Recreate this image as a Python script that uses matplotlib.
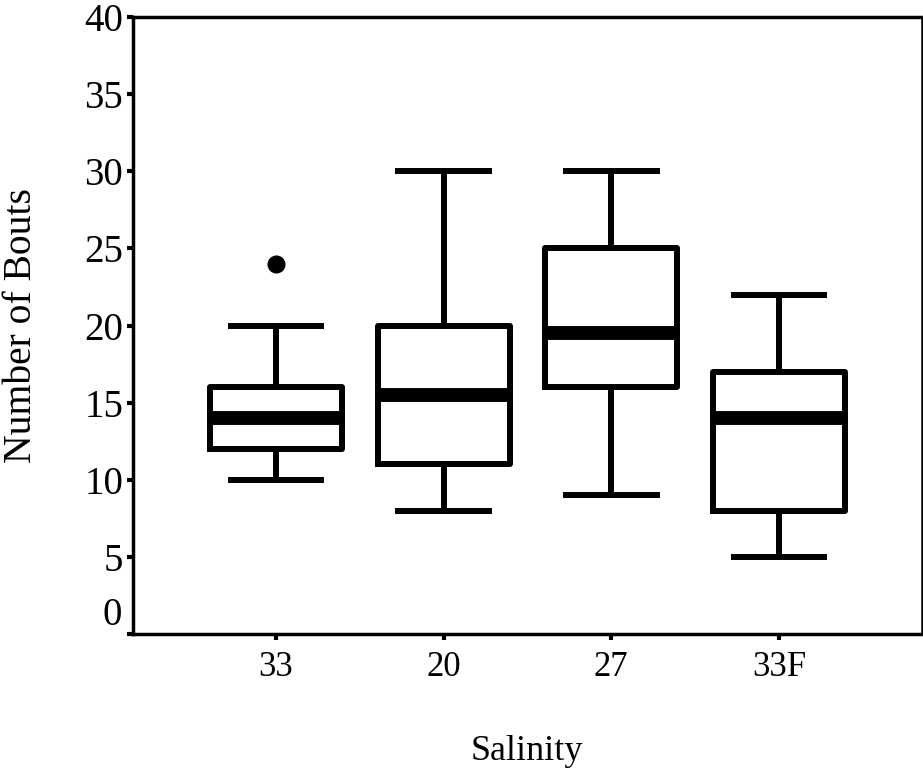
import matplotlib
matplotlib.use("Agg")
import matplotlib.pyplot as plt
from matplotlib.ticker import FuncFormatter

# box summary per salinity group
groups = ["33", "20", "27", "33F"]
whisker_low = [10, 8, 9, 5]
q1 = [12, 11, 16, 8]
median = [14, 15.5, 19.5, 14]
q3 = [16, 20, 25, 17]
whisker_high = [20, 30, 30, 22]
outliers = [[24], [], [], []]
y_ticks = [0, 5, 10, 15, 20, 25, 30, 35, 40]

plt.rcParams['font.family'] = ['Liberation Serif', 'DejaVu Serif']

fig = plt.figure(figsize=(9.23, 7.72), dpi=100)
ax = fig.add_axes([133 / 923, 1 - 634 / 772, (922 - 133) / 923, (634 - 17) / 772])

stats = []
for i in range(len(groups)):
    stats.append({
        "label": groups[i],
        "whislo": whisker_low[i],
        "q1": q1[i],
        "med": median[i],
        "q3": q3[i],
        "whishi": whisker_high[i],
        "fliers": outliers[i],
    })

ax.bxp(stats, positions=[1, 2, 3, 4], widths=0.79,
       boxprops=dict(color="black", linewidth=4.3),
       whiskerprops=dict(color="black", linewidth=4.3),
       capprops=dict(color="black", linewidth=4.3),
       medianprops=dict(color="black", linewidth=10, solid_capstyle="butt"),
       flierprops=dict(marker="o", markerfacecolor="black", markeredgecolor="black", markersize=12),
       capwidths=0.54)

ax.set_xlim(0.146, 4.854)
ax.set_ylim(0, 40)
ax.set_yticks(y_ticks)
# the zero label sits a bit above its tick in the original, draw it separately
ax.yaxis.set_major_formatter(FuncFormatter(lambda v, p: "" if v == 0 else "%d" % v))
ax.annotate("0", xy=(0, 0), xycoords=("axes fraction", "data"),
            xytext=(-8, 13), textcoords="offset points",
            ha="right", va="center", fontsize=28)
ax.set_xticks([1, 2, 3, 4])
ax.set_xticklabels(groups)

ax.tick_params(axis="y", labelsize=28, length=4, width=3, pad=3)
ax.tick_params(axis="x", labelsize=25, length=4, width=3, pad=8)
for side in ["left", "bottom", "top"]:
    ax.spines[side].set_linewidth(2.5)
ax.spines["right"].set_linewidth(1.8)

fig.text(22 / 923, 1 - 326 / 772, "Number of Bouts", fontsize=28.5,
         rotation=90, ha="center", va="center")
fig.text(527 / 923, 1 - 752 / 772, "Salinity", fontsize=26, ha="center", va="center")

fig.savefig("out.png", dpi=100)
